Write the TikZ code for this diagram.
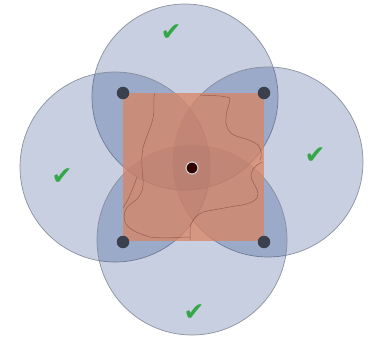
\documentclass[tikz,border=0pt]{standalone}
\usepackage{fontspec}
\newfontfamily\dejavu{DejaVu Sans}
\definecolor{cfill}{RGB}{15,48,125}
\definecolor{cline}{RGB}{130,136,150}
\definecolor{sqfill}{RGB}{218,132,96}
\definecolor{mapline}{RGB}{130,72,58}
\definecolor{dotc}{RGB}{58,64,78}
\definecolor{ckgreen}{RGB}{52,168,72}
\tikzset{
  zone/.style={fill=cfill, fill opacity=0.23, draw=cline, draw opacity=0.9, line width=0.7pt},
  plot/.style={fill=sqfill, fill opacity=0.74, draw=none},
  border/.style={draw=mapline, line width=0.5pt, line join=round, line cap=round, opacity=0.7},
  sensor/.style={circle, fill=dotc, minimum size=12.5pt, inner sep=0pt},
  hub/.style={circle, fill=black!80!red, draw=white!78!black, line width=1.2pt, minimum size=12pt, inner sep=0pt},
  ok/.style={text=ckgreen, font=\dejavu\fontsize{25}{25}\selectfont, inner sep=0pt}
}
\begin{document}
\begin{tikzpicture}[x=1pt,y=-1pt]
\useasboundingbox (0,0) rectangle (371,339);
\fill[white] (0,0) rectangle (371,339);
% circle centres
\coordinate (ct) at (185,97);
\coordinate (cl) at (115,167);
\coordinate (cr) at (268,162);
\coordinate (cb) at (192,240);
\path[zone] (ct) circle (93);
\path[zone] (cl) circle (95);
\path[zone] (cr) circle (95);
\path[zone] (cb) circle (95);
% square plot
\coordinate (sq1) at (123,93);
\coordinate (sq2) at (264,241);
\path[plot] (sq1) rectangle (sq2);
% map lines
\draw[border] (155,93) .. controls (152,100) and (156,110) .. (152,122)
  .. controls (149,132) and (145,140) .. (143,148)
  .. controls (141,158) and (142,170) .. (143,180)
  .. controls (144,190) and (140,198) .. (132,203)
  .. controls (124,208) and (123,216) .. (125,222)
  .. controls (128,230) and (140,234) .. (150,237)
  .. controls (165,239) and (178,237) .. (190,237);
\draw[border] (137,177) .. controls (133,188) and (130,196) .. (126,203)
  .. controls (124,206) and (123,208) .. (123,208);
\draw[border] (200,95) .. controls (210,96) and (222,95) .. (230,98)
  .. controls (230,104) and (226,110) .. (226,118)
  .. controls (225,126) and (228,133) .. (236,136)
  .. controls (245,139) and (252,140) .. (258,145)
  .. controls (262,150) and (262,156) .. (260,160);
\draw[border] (262,162) .. controls (254,166) and (249,172) .. (252,180)
  .. controls (256,188) and (260,192) .. (257,198)
  .. controls (252,204) and (242,205) .. (235,206)
  .. controls (225,208) and (212,210) .. (203,212)
  .. controls (195,216) and (190,222) .. (190,230)
  .. controls (190,234) and (190,237) .. (190,240);
% sensors
\node[sensor] (s1) at (123,93) {};
\node[sensor] (s2) at (264,93) {};
\node[sensor] (s3) at (123,242) {};
\node[sensor] (s4) at (264,242) {};
\node[hub] (h) at (192,168) {};
% checks
\node[ok] (k1) at (171,33) {✔};
\node[ok] (k2) at (62,177) {✔};
\node[ok] (k3) at (315,156) {✔};
\node[ok] (k4) at (194,313) {✔};
\end{tikzpicture}
\end{document}
